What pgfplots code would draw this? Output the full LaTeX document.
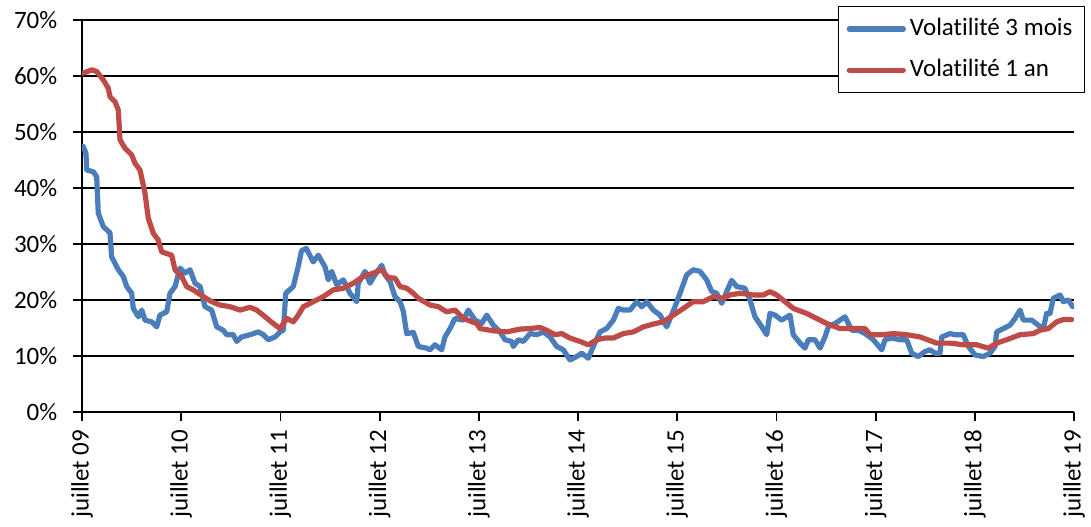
\documentclass[border=0pt]{standalone}
\usepackage{pgfplots}
\pgfplotsset{compat=1.18}
\usepackage{fontspec}
\setmainfont{Carlito}[Ligatures={NoCommon,NoRare,NoContextual}]
\definecolor{vblue}{HTML}{4A7EBB}
\definecolor{vred}{HTML}{BE4B48}
\begin{document}
\fontsize{12.5}{15}\selectfont
\begin{tikzpicture}
\begin{axis}[
  name=ax,
  scale only axis,
  width=496pt, height=196pt,
  xmin=0, xmax=10, ymin=0, ymax=70,
  axis x line*=bottom, axis y line*=left,
  axis line style={black, line width=0.9pt, -},
  xtick={0,1,2,3,4,5,6,7,8,9,10},
  xticklabels={juillet 09,juillet 10,juillet 11,juillet 12,juillet 13,juillet 14,juillet 15,juillet 16,juillet 17,juillet 18,juillet 19},
  ytick={0,10,20,30,40,50,60,70},
  yticklabels={0\%,10\%,20\%,30\%,40\%,50\%,60\%,70\%},
  tick align=outside,
  major tick length=4.5pt,
  tick style={black, line width=0.9pt},
  ymajorgrids,
  major grid style={black, line width=0.9pt},
  xticklabel style={rotate=90, anchor=east, font=\fontsize{12.5}{15}\selectfont},
  yticklabel style={font=\fontsize{12.5}{15}\selectfont, xshift=-3.5pt},
  /pgf/number format/assume math mode=true,
  legend cell align=left,
  legend style={at={(rel axis cs:1.0111,1.0357)}, anchor=north east,
    draw=black, line width=0.5pt, fill=white,
    font=\fontsize{12.5}{15}\selectfont,
    inner xsep=4pt, inner ysep=4pt, row sep=6pt},
  legend image code/.code={\draw[#1, line width=2.6pt] (0pt,0pt) -- (27pt,0pt);},
  every axis plot/.append style={line join=round, line cap=round},
]
\addplot[vblue, line width=2.6pt] coordinates {
(0.013,47.4)(0.040,46.2)(0.047,43.2)(0.114,42.9)(0.148,42.0)(0.164,35.5)
(0.215,33.1)(0.282,32.0)(0.299,27.7)(0.366,25.4)(0.416,24.2)(0.451,22.4)
(0.501,21.2)(0.517,18.5)(0.568,17.0)(0.602,18.2)(0.635,16.4)(0.703,16.1)
(0.753,15.2)(0.786,17.3)(0.854,17.9)(0.887,21.2)(0.938,22.4)(0.988,25.7)
(1.038,24.8)(1.089,25.4)(1.139,23.0)(1.190,22.4)(1.240,18.8)(1.307,18.2)
(1.358,15.2)(1.424,14.6)(1.459,13.8)(1.525,13.8)(1.559,12.6)(1.610,13.4)
(1.694,13.8)(1.777,14.3)(1.828,13.8)(1.878,12.9)(1.946,13.4)(1.996,14.3)
(2.030,14.6)(2.054,21.2)(2.130,22.4)(2.180,26.0)(2.213,28.8)(2.261,29.2)
(2.331,26.8)(2.382,28.0)(2.450,25.9)(2.483,23.6)(2.517,25.1)(2.568,22.7)
(2.634,23.6)(2.702,21.2)(2.769,19.7)(2.785,23.0)(2.853,25.1)(2.903,23.0)
(2.954,24.5)(3.021,26.2)(3.054,24.5)(3.105,23.3)(3.155,20.6)(3.206,19.7)
(3.239,18.0)(3.273,14.0)(3.340,14.2)(3.390,11.7)(3.475,11.4)(3.508,11.1)
(3.558,12.0)(3.626,11.1)(3.659,13.4)(3.710,14.9)(3.760,16.7)(3.844,16.4)
(3.894,18.2)(3.962,16.4)(4.029,15.8)(4.080,17.3)(4.146,15.5)(4.214,14.3)
(4.264,12.9)(4.332,12.6)(4.348,11.7)(4.398,12.9)(4.449,12.6)(4.516,14.0)
(4.584,13.8)(4.650,14.3)(4.718,13.4)(4.785,11.7)(4.852,11.1)(4.919,9.3)
(4.987,9.9)(5.037,10.5)(5.104,9.6)(5.154,11.7)(5.222,14.3)(5.289,14.9)
(5.356,16.4)(5.406,18.5)(5.457,18.2)(5.524,18.2)(5.592,19.7)(5.642,18.8)
(5.692,19.7)(5.759,18.2)(5.827,17.3)(5.894,15.2)(5.978,18.8)(6.028,21.2)
(6.096,24.5)(6.162,25.4)(6.230,25.1)(6.297,23.6)(6.348,21.5)(6.398,21.2)
(6.449,19.4)(6.499,21.5)(6.549,23.5)(6.600,22.4)(6.683,22.1)(6.734,20.0)
(6.784,17.0)(6.852,15.2)(6.902,13.8)(6.935,17.6)(6.986,17.3)(7.053,16.4)
(7.137,17.3)(7.170,13.8)(7.238,12.3)(7.288,11.4)(7.322,12.9)(7.389,12.9)
(7.440,11.4)(7.490,13.4)(7.523,15.2)(7.591,15.8)(7.641,16.4)(7.692,17.0)
(7.759,14.6)(7.826,14.6)(7.893,14.0)(7.977,12.9)(8.062,11.1)(8.095,12.9)
(8.162,13.2)(8.246,12.9)(8.313,12.9)(8.364,10.5)(8.430,9.9)(8.498,10.8)
(8.548,11.1)(8.599,10.5)(8.649,10.5)(8.666,13.4)(8.750,14.0)(8.800,13.8)
(8.884,13.8)(8.934,11.7)(9.002,10.2)(9.086,9.9)(9.153,10.5)(9.204,11.7)
(9.221,14.3)(9.288,14.9)(9.355,15.5)(9.405,16.7)(9.456,18.2)(9.489,16.4)
(9.574,16.4)(9.640,15.5)(9.691,14.9)(9.724,17.6)(9.758,17.6)(9.791,20.3)
(9.859,20.9)(9.892,19.7)(9.943,20.0)(9.987,18.8)
};
\addlegendentry{Volat\kern0pt ilité 3 mois}
\addplot[vred, line width=2.6pt] coordinates {
(0.013,60.5)(0.098,61.1)(0.148,60.8)(0.215,59.3)(0.265,57.8)(0.282,56.3)
(0.333,55.4)(0.366,53.9)(0.383,48.6)(0.433,47.1)(0.501,45.9)(0.534,44.4)
(0.585,43.2)(0.635,39.1)(0.668,34.6)(0.719,31.9)(0.769,30.7)(0.803,28.6)
(0.904,28.0)(0.938,25.4)(1.005,24.2)(1.055,22.4)(1.122,21.8)(1.223,20.6)
(1.307,19.7)(1.391,19.1)(1.492,18.8)(1.593,18.2)(1.694,18.7)(1.761,18.2)
(1.845,17.0)(1.928,15.8)(1.996,14.9)(2.064,16.7)(2.130,16.1)(2.180,17.3)
(2.231,18.8)(2.332,19.7)(2.432,20.6)(2.533,21.8)(2.634,22.1)(2.735,23.0)
(2.836,24.2)(2.936,24.8)(3.021,25.4)(3.088,24.0)(3.155,23.9)(3.206,22.4)
(3.273,22.1)(3.340,21.2)(3.390,20.3)(3.508,19.1)(3.592,18.8)(3.676,17.9)
(3.760,18.2)(3.844,16.7)(3.979,15.8)(4.012,14.9)(4.146,14.5)(4.281,14.3)
(4.415,14.8)(4.516,14.9)(4.617,15.1)(4.684,14.6)(4.768,13.8)(4.836,14.0)
(4.919,13.2)(5.020,12.6)(5.104,12.0)(5.188,12.9)(5.272,13.2)(5.356,13.2)
(5.457,14.0)(5.558,14.3)(5.658,15.2)(5.759,15.7)(5.860,16.1)(5.961,17.3)
(6.062,18.5)(6.162,19.7)(6.263,19.7)(6.364,20.6)(6.465,20.3)(6.532,20.9)
(6.633,21.2)(6.767,20.9)(6.868,20.9)(6.935,21.5)(7.003,20.9)(7.087,19.7)
(7.170,18.5)(7.305,17.6)(7.406,16.7)(7.507,15.8)(7.641,14.9)(7.775,14.9)
(7.893,14.9)(7.944,13.8)(8.078,13.8)(8.179,14.0)(8.313,13.8)(8.448,13.4)
(8.616,12.3)(8.750,12.3)(8.884,12.0)(9.019,12.0)(9.136,11.4)(9.221,12.3)
(9.321,12.9)(9.456,13.8)(9.590,14.0)(9.657,14.6)(9.741,14.9)(9.826,16.1)
(9.893,16.5)(9.977,16.5)
};
\addlegendentry{Volat\kern0pt ilité 1 an}
\end{axis}
\pgfresetboundingbox
\path[use as bounding box] ([shift={(-41pt,-57.5pt)}]ax.south west) rectangle ([shift={(8.5pt,10pt)}]ax.north east);
\end{tikzpicture}
\end{document}
